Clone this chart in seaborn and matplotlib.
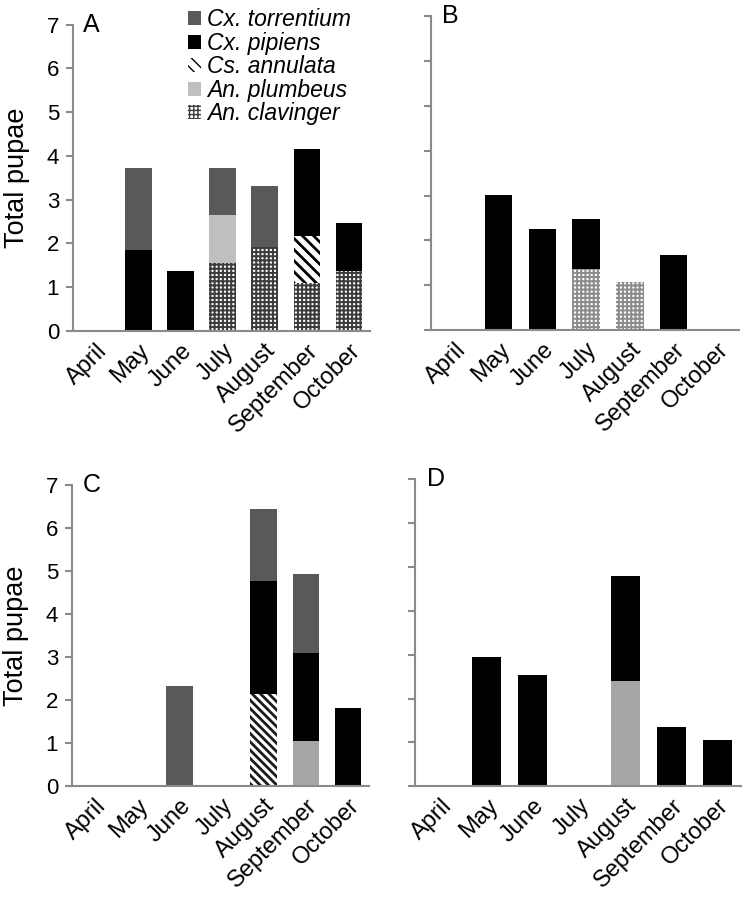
import matplotlib

matplotlib.use("Agg")
import matplotlib.pyplot as plt
import matplotlib.transforms as mtransforms
import numpy as np
import seaborn as sns
from matplotlib.patches import Patch


MONTHS = ["April", "May", "June", "July", "August", "September", "October"]
SPECIES = ["Cx. torrentium", "Cx. pipiens", "Cs. annulata", "An. plumbeus", "An. clavinger"]

# panel A
a_torrentium = [0, 1.87, 0, 1.08, 1.39, 0, 0]
a_pipiens = [0, 1.85, 1.37, 0, 0, 1.99, 1.10]
a_annulata = [0, 0, 0, 0, 0, 1.07, 0]
a_plumbeus = [0, 0, 0, 1.09, 0, 0, 0]
a_clavinger = [0, 0, 0, 1.55, 1.91, 1.09, 1.37]

# panel B
b_torrentium = [0, 0, 0, 0, 0, 0, 0]
b_pipiens = [0, 3.01, 2.26, 1.10, 0, 1.68, 0]
b_annulata = [0, 0, 0, 0, 0, 0, 0]
b_plumbeus = [0, 0, 0, 0, 0, 0, 0]
b_clavinger = [0, 0, 0, 1.37, 1.08, 0, 0]

# panel C
c_torrentium = [0, 0, 2.34, 0, 1.68, 1.86, 0]
c_pipiens = [0, 0, 0, 0, 2.64, 2.04, 1.83]
c_annulata = [0, 0, 0, 0, 2.14, 0, 0]
c_plumbeus = [0, 0, 0, 0, 0, 1.05, 0]
c_clavinger = [0, 0, 0, 0, 0, 0, 0]

# panel D
d_torrentium = [0, 0, 0, 0, 0, 0, 0]
d_pipiens = [0, 2.94, 2.53, 0, 2.39, 1.35, 1.06]
d_annulata = [0, 0, 0, 0, 0, 0, 0]
d_plumbeus = [0, 0, 0, 0, 2.40, 0, 0]
d_clavinger = [0, 0, 0, 0, 0, 0, 0]

AXIS_GRAY = "#8a8a8a"


def species_styles(plumbeus_color, clavinger_color, annulata_color, annulata_hatch):
    # (face, hatch colour, hatch, hatch linewidth)
    return {
        "Cx. torrentium": ("#595959", "#595959", None, 1.0),
        "Cx. pipiens": ("#000000", "#000000", None, 1.0),
        "Cs. annulata": ("#ffffff", annulata_color, annulata_hatch, 2.0),
        "An. plumbeus": (plumbeus_color, plumbeus_color, None, 1.0),
        "An. clavinger": ("#ffffff", clavinger_color, "++++", 1.45),
    }


def draw_panel(fig, ax, layers, styles, letter, show_ylabels):
    # stack bottom -> top: clavinger, plumbeus, annulata, pipiens, torrentium
    stack_order = ["An. clavinger", "An. plumbeus", "Cs. annulata", "Cx. pipiens", "Cx. torrentium"]
    cum = np.zeros(len(MONTHS))
    cumulative = []
    for name in stack_order:
        cum = cum + np.array(layers[name], dtype=float)
        cumulative.append((name, cum.copy()))

    # draw tallest cumulative first, lower layers painted on top
    for name, values in reversed(cumulative):
        face, hcolor, hatch, hlw = styles[name]
        n_before = len(ax.patches)
        with plt.rc_context({"hatch.linewidth": hlw}):
            sns.barplot(
                x=MONTHS,
                y=values,
                order=MONTHS,
                color=face,
                saturation=1,
                width=0.63,
                hatch=hatch,
                edgecolor=hcolor,
                linewidth=0,
                ax=ax,
            )
        for patch in ax.patches[n_before:]:
            if hasattr(patch, "set_hatch_linewidth"):
                patch.set_hatch_linewidth(hlw)

    ax.set_ylim(0, 7)
    ax.set_xlim(-0.55, 6.5)
    ax.set_yticks(range(0, 8))
    sns.despine(ax=ax)
    for side in ["left", "bottom"]:
        ax.spines[side].set_color(AXIS_GRAY)
        ax.spines[side].set_linewidth(1.5)
    ax.tick_params(axis="y", left=True, length=5, width=1.5, color=AXIS_GRAY,
                   labelsize=16, pad=5, labelcolor="black")
    ax.tick_params(axis="x", bottom=False, labelsize=17, pad=0, labelcolor="black")
    offset = mtransforms.ScaledTranslation(8 / 100, -8 / 100, fig.dpi_scale_trans)
    for label in ax.get_xticklabels():
        label.set_rotation(45)
        label.set_ha("right")
        label.set_va("center")
        label.set_rotation_mode("anchor")
        label.set_transform(label.get_transform() + offset)
    if show_ylabels:
        ax.set_ylabel("Total pupae", fontsize=19.5, color="black")
        ax.yaxis.set_label_coords(-0.145, 0.5)
    else:
        ax.set_yticklabels([])
        ax.set_ylabel("")
    ax.set_xlabel("")
    ax.text(0.035, 1.0, letter, transform=ax.transAxes, fontsize=18,
            va="center", ha="left", color="black")


def main():
    sns.set_theme(style="white")
    plt.rcParams["font.family"] = ["Liberation Sans", "DejaVu Sans"]
    plt.rcParams["text.color"] = "black"

    fig = plt.figure(figsize=(7.48, 9.09), dpi=100)
    ax_a = fig.add_axes([0.0976, 0.636, 0.397, 0.337])
    ax_b = fig.add_axes([0.576, 0.637, 0.412, 0.345])
    ax_c = fig.add_axes([0.0963, 0.135, 0.397, 0.331])
    ax_d = fig.add_axes([0.555, 0.135, 0.435, 0.338])

    dark = species_styles("#bfbfbf", "#3c3c3c", "#000000", "\\\\\\")
    light = species_styles("#a6a6a6", "#8c8c8c", "#1a1a1a", "\\\\\\\\")

    panels = [
        (ax_a, [a_torrentium, a_pipiens, a_annulata, a_plumbeus, a_clavinger], dark, "A", True),
        (ax_b, [b_torrentium, b_pipiens, b_annulata, b_plumbeus, b_clavinger], light, "B", False),
        (ax_c, [c_torrentium, c_pipiens, c_annulata, c_plumbeus, c_clavinger], light, "C", True),
        (ax_d, [d_torrentium, d_pipiens, d_annulata, d_plumbeus, d_clavinger], light, "D", False),
    ]
    for ax, series, styles, letter, show in panels:
        layers = dict(zip(SPECIES, series))
        draw_panel(fig, ax, layers, styles, letter, show)

    handles = []
    for name in SPECIES:
        face, hcolor, hatch, hlw = dark[name]
        handles.append(Patch(facecolor=face, edgecolor=hcolor, hatch=hatch, linewidth=0))
    ax_a.legend(
        handles,
        SPECIES,
        loc="upper left",
        bbox_to_anchor=(0.35, 1.09),
        frameon=False,
        prop={"style": "italic", "size": 16.5},
        labelcolor="black",
        handlelength=0.55,
        handleheight=0.55,
        handletextpad=0.25,
        labelspacing=0.02,
        borderpad=0,
    )

    fig.savefig("out.png", dpi=100)
    plt.close(fig)


if __name__ == "__main__":
    main()
